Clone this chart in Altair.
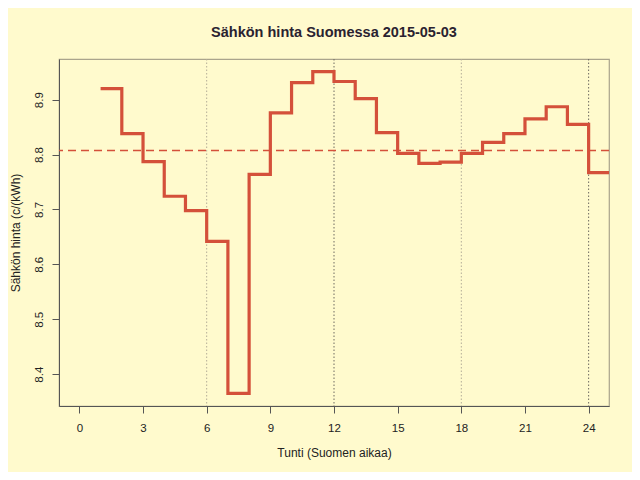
import altair as alt
import pandas as pd
import numpy as np

hours = list(range(1, 25))
prices = [8.920, 8.838, 8.787, 8.724, 8.698, 8.642, 8.365, 8.764,
          8.876, 8.931, 8.951, 8.933, 8.902, 8.840, 8.802, 8.784,
          8.786, 8.802, 8.822, 8.838, 8.865, 8.887, 8.855, 8.767]
x_ticks = [0, 3, 6, 9, 12, 15, 18, 21, 24]
y_ticks = [8.4, 8.5, 8.6, 8.7, 8.8, 8.9]
vlines = [6, 12, 18, 24]
vline_kind = ["aamu", "keski", "ilta", "keski"]

title = "Sähkön hinta Suomessa 2015-05-03"
x_title = "Tunti (Suomen aikaa)"
y_title = "Sähkön hinta (c/(kWh)"

# step line: last hour's value is held to the end of the hour
step_df = pd.DataFrame({"tunti": hours + [hours[-1] + 1],
                        "hinta": prices + [prices[-1]]})
mean_df = pd.DataFrame({"keskiarvo": [float(np.mean(prices))]})
vline_df = pd.DataFrame({"tunti": vlines, "laji": vline_kind})

FONT = "Liberation Sans"
RED = "#d4503a"

xscale = alt.Scale(domain=[-0.96, 24.96], nice=False, zero=False)
yscale = alt.Scale(domain=[8.342, 8.974], nice=False, zero=False)

xaxis = alt.Axis(values=x_ticks, title=x_title, grid=False, tickSize=7,
                 tickColor="#555555", domainColor="#555555", labelPadding=9,
                 titlePadding=14, labelFontSize=11.5, titleFontSize=12,
                 labelColor="#222222", titleColor="#222222",
                 labelFont=FONT, titleFont=FONT, titleFontWeight="normal")
yaxis = alt.Axis(values=y_ticks, title=y_title, grid=False, tickSize=7,
                 tickColor="#555555", domainColor="#555555", labelPadding=8,
                 labelAngle=-90, labelAlign="center", labelBaseline="bottom",
                 titlePadding=11, labelFontSize=11.5, titleFontSize=12,
                 labelColor="#222222", titleColor="#222222", format=".1f",
                 labelFont=FONT, titleFont=FONT, titleFontWeight="normal")

vl = alt.Chart(vline_df).mark_rule(strokeDash=[1.5, 2], strokeWidth=1).encode(
    x=alt.X("tunti:Q", scale=xscale, axis=xaxis),
    color=alt.Color("laji:N", scale=alt.Scale(domain=["aamu", "keski", "ilta"],
                                              range=["#b4ad98", "#6e6a60", "#b4ad98"]),
                    legend=None),
)

mean_rule = alt.Chart(mean_df).mark_rule(color=RED, strokeWidth=1.6,
                                         strokeDash=[8, 5]).encode(
    y=alt.Y("keskiarvo:Q", scale=yscale, axis=yaxis),
)

step = alt.Chart(step_df).mark_line(interpolate="step-after", color=RED,
                                    strokeWidth=3.2, clip=True).encode(
    x=alt.X("tunti:Q", scale=xscale, axis=xaxis),
    y=alt.Y("hinta:Q", scale=yscale, axis=yaxis),
)

chart = alt.layer(vl, mean_rule, step).properties(
    width=550, height=347,
    title=alt.TitleParams(title, font=FONT, fontSize=14.5, fontWeight="bold",
                          color="#2a2230", anchor="middle", offset=18),
    autosize=alt.AutoSizeParams(type="none"),
    padding={"left": 51, "top": 51, "right": 23, "bottom": 66},
    background="#fffacd",
).configure_view(stroke="#aaa48c", strokeWidth=1.2)

chart.save("out.html", embed_options={"renderer": "svg", "actions": False})
